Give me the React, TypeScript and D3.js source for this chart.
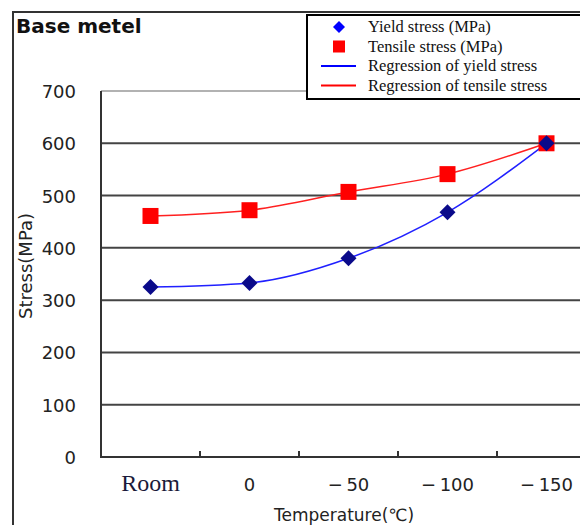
import React, { useEffect, useRef } from 'react';
import * as d3 from 'd3';

// temperatures, room temperature first
const categories = ['Room', '0', '-50', '-100', '-150'];
const yieldStress = [325, 333, 380, 468, 600];
const tensileStress = [461, 472, 507, 541, 600];
const yTicks = [0, 100, 200, 300, 400, 500, 600, 700];

const legendItems = [
  { label: 'Yield stress (MPa)', kind: 'diamond', color: '#0000ff' },
  { label: 'Tensile stress (MPa)', kind: 'square', color: '#ff0000' },
  { label: 'Regression of yield stress', kind: 'line', color: '#0000ff' },
  { label: 'Regression of tensile stress', kind: 'line', color: '#ff0000' },
];

const SANS = '"DejaVu Sans", Arial, sans-serif';
const SERIF = '"Times New Roman", "Liberation Serif", serif';

export default function App() {
  const ref = useRef<SVGSVGElement>(null);

  useEffect(() => {
    const svg = d3.select(ref.current);
    svg.selectAll('*').remove();

    const left = 101, top = 91, bottom = 457;
    const band = 99;

    const x = d3.scaleBand<string>()
      .domain(categories)
      .range([left, left + band * categories.length]);
    const y = d3.scaleLinear().domain([0, 700]).range([bottom, top]);
    const cx = (i: number) => (x(categories[i]) as number) + x.bandwidth() / 2;

    // outer frame
    svg.append('path')
      .attr('d', 'M13,525 L13,12 L580,12')
      .attr('fill', 'none')
      .attr('stroke', '#333')
      .attr('stroke-width', 2);

    svg.append('text')
      .attr('x', 16).attr('y', 33)
      .attr('font-family', SANS)
      .attr('font-weight', 'bold')
      .attr('font-size', 20)
      .attr('fill', '#111')
      .text('Base metel');

    // horizontal grid lines
    svg.append('g').selectAll('line')
      .data(yTicks.filter(d => d > 0))
      .join('line')
      .attr('x1', left).attr('x2', 580)
      .attr('y1', d => y(d)).attr('y2', d => y(d))
      .attr('stroke', d => d === 700 ? '#999' : '#444')
      .attr('stroke-width', d => d === 700 ? 1.5 : 2);

    // axes
    svg.append('path')
      .attr('d', `M${left},${top} L${left},${bottom} L580,${bottom}`)
      .attr('fill', 'none')
      .attr('stroke', '#333')
      .attr('stroke-width', 2);

    svg.append('g').selectAll('line')
      .data(categories.slice(1))
      .join('line')
      .attr('x1', d => x(d) as number).attr('x2', d => x(d) as number)
      .attr('y1', bottom - 6).attr('y2', bottom)
      .attr('stroke', '#333')
      .attr('stroke-width', 2);

    svg.append('g').selectAll('text')
      .data(yTicks)
      .join('text')
      .attr('x', 76).attr('y', d => y(d) + 7)
      .attr('text-anchor', 'end')
      .attr('font-family', SANS)
      .attr('font-size', 18)
      .attr('fill', '#222')
      .text(d => d);

    svg.append('g').selectAll('text')
      .data(categories)
      .join('text')
      .attr('x', (d, i) => cx(i))
      .attr('y', 491)
      .attr('text-anchor', 'middle')
      .attr('font-family', d => d === 'Room' ? SERIF : SANS)
      .attr('font-size', d => d === 'Room' ? 24 : 18)
      .attr('fill', d => d === 'Room' ? '#1a1a3a' : '#222')
      .text(d => d === 'Room' ? d : d.replace('-', '\u2212\u2009'));

    svg.append('text')
      .attr('x', 344).attr('y', 521)
      .attr('text-anchor', 'middle')
      .attr('font-family', SANS)
      .attr('font-size', 17)
      .attr('fill', '#222')
      .text('Temperature(\u2103)');

    svg.append('text')
      .attr('transform', 'translate(32,266) rotate(-90)')
      .attr('text-anchor', 'middle')
      .attr('font-family', SANS)
      .attr('font-size', 18)
      .attr('fill', '#222')
      .text('Stress(MPa)');

    // regression curves
    const line = d3.line<number>()
      .x((d, i) => cx(i))
      .y(d => y(d))
      .curve(d3.curveMonotoneX);

    svg.append('path')
      .attr('d', line(tensileStress))
      .attr('fill', 'none').attr('stroke', '#ff2020').attr('stroke-width', 1.5);
    svg.append('path')
      .attr('d', line(yieldStress))
      .attr('fill', 'none').attr('stroke', '#2020ff').attr('stroke-width', 1.5);

    // markers
    svg.append('g').selectAll('rect')
      .data(tensileStress)
      .join('rect')
      .attr('x', (d, i) => cx(i) - 8).attr('y', d => y(d) - 8)
      .attr('width', 16).attr('height', 16)
      .attr('fill', '#ff0000');

    svg.append('g').selectAll('path')
      .data(yieldStress)
      .join('path')
      .attr('d', (d, i) => `M${cx(i)},${y(d) - 8} L${cx(i) + 8},${y(d)} L${cx(i)},${y(d) + 8} L${cx(i) - 8},${y(d)} Z`)
      .attr('fill', '#0a0a8a');

    // legend
    const lg = svg.append('g').attr('transform', 'translate(307,15)');
    lg.append('rect')
      .attr('x', 0).attr('y', 0).attr('width', 290).attr('height', 84)
      .attr('fill', '#fff').attr('stroke', '#000').attr('stroke-width', 2);

    legendItems.forEach((it, i) => {
      const ry = 12 + i * 19.5;
      const g = lg.append('g');
      if (it.kind === 'diamond') {
        g.append('path')
          .attr('d', `M32,${ry - 6} L38,${ry} L32,${ry + 6} L26,${ry} Z`)
          .attr('fill', it.color);
      } else if (it.kind === 'square') {
        g.append('rect')
          .attr('x', 26).attr('y', ry - 6).attr('width', 12).attr('height', 12)
          .attr('fill', it.color);
      } else {
        g.append('line')
          .attr('x1', 14).attr('x2', 49).attr('y1', ry).attr('y2', ry)
          .attr('stroke', it.color).attr('stroke-width', 2);
      }
      g.append('text')
        .attr('x', 61).attr('y', ry + 5)
        .attr('font-family', SERIF)
        .attr('font-size', 16.5)
        .attr('fill', '#111')
        .text(it.label);
    });
  }, []);

  return (
    <svg ref={ref} width={580} height={525}
      style={{ position: 'absolute', left: 0, top: 0, background: '#fff' }} />
  );
}
